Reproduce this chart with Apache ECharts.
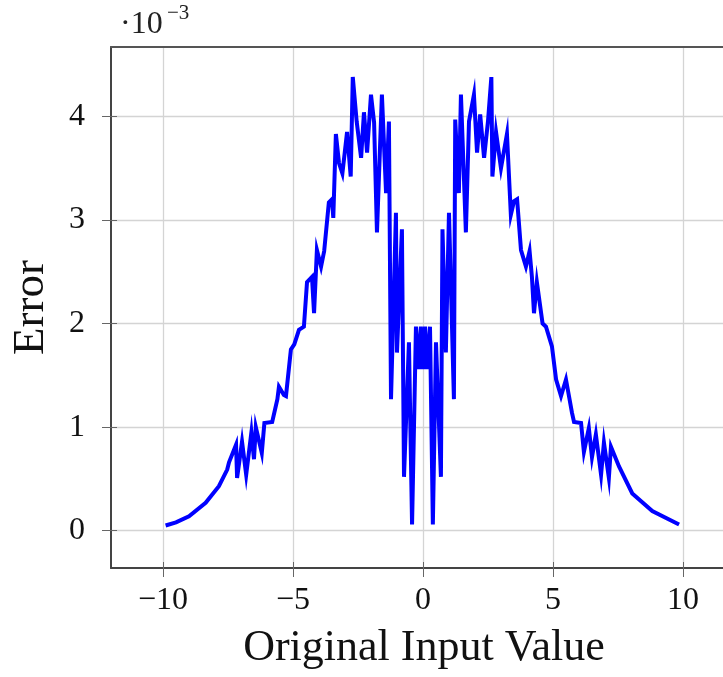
<!DOCTYPE html>
<html>
<head>
<meta charset="utf-8">
<title>Error</title>
<script src="https://cdn.jsdelivr.net/npm/echarts@6/dist/echarts.min.js"></script>
<style>
	html, body { margin: 0; padding: 0; background: #fff; }
	#main { width: 723px; height: 677px; }
</style>
</head>
<body>
<div id="main"></div>
<script>
// x values (original input)
var xs = [-9.9, -9.5, -9.0, -8.36, -7.85, -7.53, -7.46, -7.19, -7.15, -6.96, -6.8, -6.6, -6.5, -6.43, -6.2, -6.1,
	-5.8, -5.6, -5.54, -5.35, -5.27, -5.08, -4.95, -4.77, -4.58, -4.46, -4.27, -4.19, -4.08, -3.92, -3.8,
	-3.62, -3.5, -3.45, -3.35, -3.23, -3.1, -2.92, -2.78, -2.7, -2.55, -2.38, -2.27, -2.15, -2.0, -1.88,
	-1.77, -1.58, -1.42, -1.31, -1.23, -1.04, -1.0, -0.81, -0.73, -0.54, -0.42, -0.27, -0.15, -0.08, 0,
	0.08, 0.15, 0.27, 0.38, 0.5, 0.69, 0.75, 0.88, 1.0, 1.19, 1.24, 1.38, 1.46, 1.65, 1.77, 1.96, 2.08,
	2.2, 2.35, 2.5, 2.63, 2.67, 2.81, 3.0, 3.23, 3.38, 3.5, 3.62, 3.77, 3.96, 4.1, 4.19, 4.27, 4.38,
	4.6, 4.73, 4.96, 5.12, 5.31, 5.5, 5.73, 5.81, 6.08, 6.19, 6.38, 6.5, 6.65, 6.85, 6.96, 7.15, 7.23,
	7.54, 8.05, 8.82, 9.85];
// error values, in units of 1e-3
var ys = [0.05, 0.08, 0.14, 0.27, 0.43, 0.59, 0.66, 0.83, 0.51, 0.86, 0.54, 0.95, 0.69, 1.0, 0.75, 1.04,
	1.05, 1.27, 1.39, 1.31, 1.30, 1.75, 1.80, 1.94, 1.97, 2.40, 2.45, 2.10, 2.71, 2.55, 2.70,
	3.17, 3.20, 3.02, 3.83, 3.55, 3.45, 3.85, 3.42, 4.38, 3.95, 3.60, 4.04, 3.65, 4.21, 3.94,
	2.88, 4.21, 3.26, 3.95, 1.27, 3.07, 1.72, 2.91, 0.52, 1.82, 0.06, 1.97, 1.56, 1.97, 1.56,
	1.97, 1.56, 1.97, 0.06, 1.82, 0.52, 2.91, 1.72, 3.07, 1.27, 3.97, 3.26, 4.21, 2.88, 3.95, 4.21, 3.65,
	4.02, 3.60, 3.95, 4.38, 3.42, 3.85, 3.50, 3.83, 3.05, 3.18, 3.20, 2.71, 2.55, 2.70, 2.45, 2.10, 2.40,
	2.00, 1.97, 1.78, 1.46, 1.30, 1.46, 1.14, 1.05, 1.04, 0.76, 0.99, 0.71, 0.93, 0.54, 0.85, 0.51, 0.81,
	0.62, 0.36, 0.19, 0.06];
// tick labels
var xTicks = [-10, -5, 0, 5, 10];
var yTicks = [0, 1, 2, 3, 4];

var serif = '"Liberation Serif", "DejaVu Serif", serif';
var X_MIN = -12, X_MAX = 11.54; // right side of the frame is cut off in the picture
var Y_MIN = -0.36, Y_MAX = 4.67;

// 只画刻度的辅助轴(刻度朝内)
function innerAxis(min, max, ticks, pos) {
	return {
		type: 'value', min: min, max: max, position: pos,
		axisLine: { show: false, onZero: false },
		axisTick: { show: true, inside: true, length: 6, customValues: ticks, lineStyle: { color: '#666' } },
		axisLabel: { show: false },
		splitLine: { show: false }
	};
}

function drawChart() {
	var chart = echarts.init(document.getElementById('main'));
	var points = [];
	for (var i = 0; i < xs.length; i++) {
		points.push([xs[i], ys[i]]);
	}
	var option = {
		animation: false,
		grid: { left: 111, top: 47, bottom: 109, right: 0 },
		graphic: [
			{ type: 'text', left: 120, top: 9, style: { text: '\u00b710', font: '32px ' + serif, fill: '#222' } },
			{ type: 'text', left: 167, top: 3, style: { text: '\u22123', font: '21px ' + serif, fill: '#222' } }
		],
		xAxis: [{
			type: 'value',
			min: X_MIN,
			max: X_MAX,
			name: 'Original Input Value',
			nameLocation: 'middle',
			nameGap: 58,
			nameTextStyle: { fontFamily: serif, fontSize: 44, color: '#111', padding: [0, 0, 0, 14] },
			axisLine: { show: true, onZero: false, lineStyle: { color: '#444', width: 2 } },
			axisTick: { show: true, length: 9, customValues: xTicks, lineStyle: { color: '#666' } },
			axisLabel: {
				customValues: xTicks,
				margin: 17,
				fontFamily: serif,
				fontSize: 32,
				color: '#111',
				formatter: function (v) { return v < 0 ? '\u2212' + Math.abs(v) : String(v); }
			},
			splitLine: { show: true, lineStyle: { color: '#d4d4d4', width: 1.3 } }
		}, {
			// 上边框
			type: 'value', min: X_MIN, max: X_MAX, position: 'top',
			axisLine: { show: true, onZero: false, lineStyle: { color: '#555', width: 2 } },
			axisTick: { show: false }, axisLabel: { show: false }, splitLine: { show: false }
		}, innerAxis(X_MIN, X_MAX, xTicks, 'bottom')],
		yAxis: [{
			type: 'value',
			min: Y_MIN,
			max: Y_MAX,
			name: 'Error',
			nameLocation: 'middle',
			nameGap: 57,
			nameTextStyle: { fontFamily: serif, fontSize: 45, color: '#111' },
			axisLine: { show: true, onZero: false, lineStyle: { color: '#444', width: 2 } },
			axisTick: { show: true, length: 9, customValues: yTicks, lineStyle: { color: '#666' } },
			axisLabel: {
				customValues: yTicks,
				margin: 26,
				fontFamily: serif,
				fontSize: 32,
				color: '#111'
			},
			splitLine: { show: true, lineStyle: { color: '#d4d4d4', width: 1.3 } }
		}, innerAxis(Y_MIN, Y_MAX, yTicks, 'left')],
		series: [{
			type: 'line',
			data: points,
			showSymbol: false,
			lineStyle: { color: '#0000ff', width: 4, join: 'miter' },
			itemStyle: { color: '#0000ff' }
		}]
	};
	chart.setOption(option);
}
drawChart();
</script>
</body>
</html>
